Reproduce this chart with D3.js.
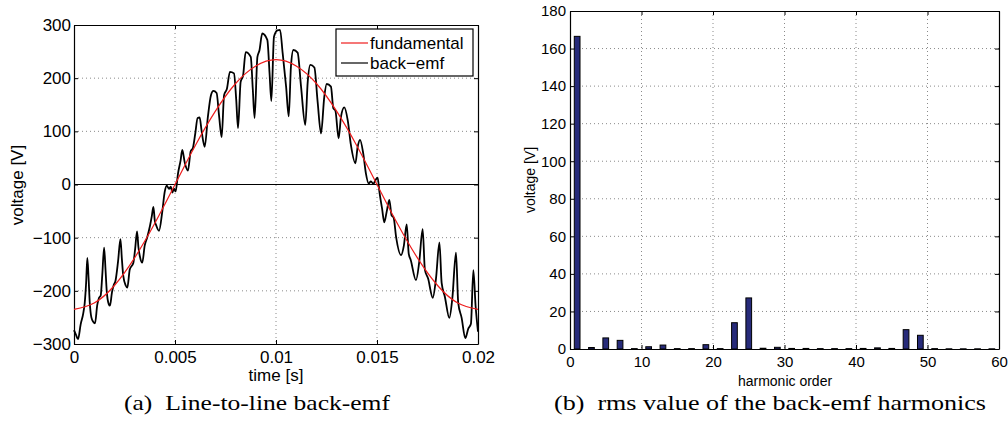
<!DOCTYPE html>
<html>
<head>
<meta charset="utf-8">
<script src="https://cdnjs.cloudflare.com/ajax/libs/d3/7.8.5/d3.min.js"></script>
<style>
body { margin: 0; background: #fff; }
text { font-family: "Liberation Sans", Arial, sans-serif; }
text.caption { font-family: "Liberation Serif", "Times New Roman", serif; }
</style>
</head>
<body>
<div id="main"></div>
<script>
'use strict';

// (a) back-emf waveform
var emfT = [0, 0.0001, 0.0002, 0.00033, 0.00046, 0.00053, 0.0006, 0.00066, 0.00072, 0.00078, 0.00086, 0.00095, 0.00104,
	0.00115, 0.00124, 0.00132, 0.0014, 0.00149, 0.00156, 0.00162, 0.00172, 0.00178, 0.00188, 0.00196, 0.00206, 0.00218,
	0.0023, 0.00237, 0.00244, 0.00256, 0.00264, 0.00276, 0.00294, 0.00303, 0.00312, 0.00319, 0.00326, 0.00338, 0.0035,
	0.00362, 0.00376, 0.00385, 0.00393, 0.004, 0.00408, 0.00421, 0.00437, 0.00449, 0.00459, 0.0047, 0.00479, 0.00487,
	0.00495, 0.00503,
	0.00515, 0.00528, 0.00536, 0.00548, 0.00564, 0.00578, 0.00588, 0.006, 0.00612, 0.00622, 0.00632, 0.00647, 0.00663,
	0.00678, 0.0069, 0.00706, 0.00718, 0.00731, 0.00743, 0.00757, 0.00772, 0.00792, 0.00803, 0.00812, 0.00825, 0.00837,
	0.0085, 0.00875, 0.00885, 0.00894, 0.00908, 0.00918, 0.00932, 0.00957, 0.00968, 0.00977, 0.0099, 0.01007, 0.0102,
	0.01033, 0.0105, 0.01063, 0.01074, 0.01086, 0.01107, 0.01124, 0.01145, 0.01157, 0.0117, 0.0119, 0.01206, 0.01223,
	0.01239, 0.01251, 0.01272, 0.01284, 0.01294, 0.0131, 0.01322, 0.01338, 0.01355, 0.01371, 0.01393, 0.01404, 0.01416,
	0.01432, 0.01445, 0.01459, 0.0147, 0.01482, 0.01492, 0.01503,
	0.01512, 0.01525, 0.01536, 0.01548, 0.01561, 0.01572, 0.01582, 0.01595, 0.01619, 0.01633, 0.01647, 0.01657, 0.01667,
	0.01693, 0.01709, 0.01726, 0.01737, 0.01753, 0.01776, 0.01792, 0.01809, 0.0182, 0.01836, 0.01858, 0.01873, 0.01891,
	0.01902, 0.01919, 0.01937, 0.01952, 0.01965, 0.01977, 0.01988, 0.02];
var emfV = [-274, -283, -291, -263, -242, -223, -185, -138, -175, -222, -250, -258, -261,
	-227, -213, -209, -170, -119, -160, -200, -225, -228, -203, -190, -180, -145,
	-103, -140, -172, -190, -194, -160, -147, -120, -88, -118, -135, -147, -115,
	-100, -78, -60, -42, -68, -78, -87, -51, -14, -2, -8, -4, -15,
	-8, -13,
	21, 46, 65, 42, 26, 63, 68, 95, 125, 126, 100, 71, 128,
	168, 176, 172, 130, 89, 168, 180, 212, 209, 160, 106, 193, 205,
	249, 240, 180, 125, 240, 252, 284, 272, 210, 157, 278, 290, 291,
	247, 184, 128, 222, 253, 248, 184, 112, 193, 225, 220, 156, 96,
	165, 189, 184, 143, 139, 87, 128, 145, 121, 74, 40, 70, 84,
	58, 21, 2, 6, 1, 8, 13,
	-14, -45, -71, -51, -29, -58, -62, -100, -133, -115, -75, -130, -142,
	-180, -146, -84, -160, -177, -213, -177, -109, -185, -211, -251, -214, -128,
	-222, -251, -289, -271, -262, -161, -228, -277];

// fundamental (red), read every 1 ms
var fundT = [0, 0.001, 0.002, 0.003, 0.004, 0.005, 0.006, 0.007, 0.008, 0.009, 0.01,
	0.011, 0.012, 0.013, 0.014, 0.015, 0.016, 0.017, 0.018, 0.019, 0.02];
var fundV = [-235, -223, -190, -138, -73, 0, 73, 138, 190, 223, 235,
	223, 190, 138, 73, 0, -73, -138, -190, -223, -235];

var zeroT = [0, 0.02];
var zeroV = [0, 0];

var timeTicks = [0, 0.005, 0.01, 0.015, 0.02];
var timeLabels = ['0', '0.005', '0.01', '0.015', '0.02'];
var voltTicks = [-300, -200, -100, 0, 100, 200, 300];

// (b) rms of harmonics
var harmOrder = [1, 3, 5, 7, 9, 11, 13, 15, 17, 19, 21, 23, 25, 27, 29, 31, 33, 35, 37, 39,
	41, 43, 45, 47, 49, 51, 53, 55, 57, 59];
var harmRms = [166.5, 0.8, 5.9, 4.6, 0.2, 1.2, 2.1, 0.2, 0.2, 2.3, 0.2, 14, 27.2, 0.4, 0.9, 0.3, 0.3, 0.2, 0.2, 0.2,
	0.3, 0.6, 0.3, 10.3, 7.3, 0.2, 0.1, 0.1, 0.1, 0.1];
var orderTicks = [0, 10, 20, 30, 40, 50, 60];
var rmsTicks = [0, 20, 40, 60, 80, 100, 120, 140, 160, 180];

var width = 1008;
var height = 432;
var gridColor = '#8a8a8a';
var barColor = '#272b7a';

var svg = d3.select('#main').append('svg')
	.attr('width', width)
	.attr('height', height)
	.style('background-color', 'white');

// draws grid, box and inward ticks on all four sides
function frame(g, x, y, xt, yt, xlab, fs, xpad, ypad) {
	var x0 = x.range()[0], x1 = x.range()[1];
	var y0 = y.range()[1], y1 = y.range()[0];

	g.append('g').selectAll('line').data(xt.slice(1, -1)).enter().append('line')
		.attr('x1', function (d) { return x(d); })
		.attr('x2', function (d) { return x(d); })
		.attr('y1', y0).attr('y2', y1)
		.attr('stroke', gridColor).attr('stroke-dasharray', '1,3');
	g.append('g').selectAll('line').data(yt.slice(1, -1)).enter().append('line')
		.attr('y1', function (d) { return y(d); })
		.attr('y2', function (d) { return y(d); })
		.attr('x1', x0).attr('x2', x1)
		.attr('stroke', gridColor).attr('stroke-dasharray', '1,3');

	var bottom = g.append('g').attr('transform', 'translate(0,' + y1 + ')')
		.call(d3.axisBottom(x).tickValues(xt).tickSize(-4).tickSizeOuter(0).tickPadding(xpad)
			.tickFormat(function (d, i) { return xlab[i]; }));
	var leftAx = g.append('g').attr('transform', 'translate(' + x0 + ',0)')
		.call(d3.axisLeft(y).tickValues(yt).tickSize(-4).tickSizeOuter(0).tickPadding(ypad)
			.tickFormat(function (d) { return d < 0 ? '\u2212' + (-d) : d; }));
	g.append('g').attr('transform', 'translate(0,' + y0 + ')')
		.call(d3.axisTop(x).tickValues(xt).tickSize(-4).tickSizeOuter(0).tickFormat(''));
	g.append('g').attr('transform', 'translate(' + x1 + ',0)')
		.call(d3.axisRight(y).tickValues(yt).tickSize(-4).tickSizeOuter(0).tickFormat(''));

	g.selectAll('.tick line').attr('stroke', 'black');
	g.selectAll('.domain').attr('stroke', 'black').attr('stroke-width', 1.2);
	[bottom, leftAx].forEach(function (a) {
		a.attr('font-family', null).attr('font-size', fs + 'px')
			.selectAll('text').attr('fill', 'black');
	});
}

// ---------- (a) ----------
var pa = svg.append('g');
var xT = d3.scaleLinear().domain([0, 0.02]).range([74, 478]);
var yV = d3.scaleLinear().domain([-300, 300]).range([344, 25]);

frame(pa, xT, yV, timeTicks, voltTicks, timeLabels, 17, 7, 3);

var lineA = d3.line()
	.x(function (d) { return xT(d[0]); })
	.y(function (d) { return yV(d[1]); });

pa.append('path')
	.datum(d3.zip(zeroT, zeroV))
	.attr('d', lineA)
	.attr('fill', 'none').attr('stroke', 'black').attr('stroke-width', 1.2);

pa.append('path')
	.datum(d3.zip(emfT, emfV))
	.attr('d', lineA.curve(d3.curveMonotoneX))
	.attr('fill', 'none').attr('stroke', 'black').attr('stroke-width', 1.8)
	.attr('stroke-linejoin', 'round');

pa.append('path')
	.datum(d3.zip(fundT, fundV))
	.attr('d', lineA.curve(d3.curveNatural))
	.attr('fill', 'none').attr('stroke', '#ee1c1c').attr('stroke-width', 1.2);

// legend
var legend = pa.append('g');
legend.append('rect')
	.attr('x', 336).attr('y', 29).attr('width', 137).attr('height', 47)
	.attr('fill', 'white').attr('stroke', 'black').attr('stroke-width', 1.2);
var legItems = [['fundamental', '#ee1c1c'], ['back\u2212emf', 'black']];
legend.selectAll('line').data(legItems).enter().append('line')
	.attr('x1', 341).attr('x2', 368)
	.attr('y1', function (d, i) { return 43 + i * 20; })
	.attr('y2', function (d, i) { return 43 + i * 20; })
	.attr('stroke', function (d) { return d[1]; }).attr('stroke-width', 1.2);
legend.selectAll('text').data(legItems).enter().append('text')
	.attr('x', 370)
	.attr('y', function (d, i) { return 49 + i * 20; })
	.attr('font-size', '17px')
	.text(function (d) { return d[0]; });

pa.append('text')
	.attr('x', 276).attr('y', 381)
	.attr('text-anchor', 'middle').attr('font-size', '17px')
	.text('time [s]');
pa.append('text')
	.attr('transform', 'translate(23,185) rotate(-90)')
	.attr('text-anchor', 'middle').attr('font-size', '17px')
	.text('voltage [V]');

// ---------- (b) ----------
var pb = svg.append('g');
var xH = d3.scaleLinear().domain([0, 60]).range([570, 999]);
var yR = d3.scaleLinear().domain([0, 180]).range([349, 11]);

frame(pb, xH, yR, orderTicks, rmsTicks, orderTicks.map(String), 15, 7, 4);

pb.append('g').selectAll('rect').data(d3.zip(harmOrder, harmRms)).enter().append('rect')
	.attr('x', function (d) { return xH(d[0] - 0.4); })
	.attr('width', xH(0.8) - xH(0))
	.attr('y', function (d) { return yR(d[1]); })
	.attr('height', function (d) { return yR(0) - yR(d[1]); })
	.attr('fill', barColor).attr('stroke', 'black').attr('stroke-width', 1);

pb.append('text')
	.attr('x', 785).attr('y', 386)
	.attr('text-anchor', 'middle').attr('font-size', '14px')
	.text('harmonic order');
pb.append('text')
	.attr('transform', 'translate(535,180) rotate(-90)')
	.attr('text-anchor', 'middle').attr('font-size', '14px')
	.text('voltage [V]');

// captions (Computer Modern is wider than Times, so stretch a little)
svg.append('text').attr('class', 'caption')
	.attr('x', 257).attr('y', 410)
	.attr('text-anchor', 'middle').attr('font-size', '22px')
	.attr('textLength', 266).attr('lengthAdjust', 'spacingAndGlyphs')
	.text('(a)\u00a0 Line-to-line back-emf');
svg.append('text').attr('class', 'caption')
	.attr('x', 770).attr('y', 410)
	.attr('text-anchor', 'middle').attr('font-size', '22px')
	.attr('textLength', 432).attr('lengthAdjust', 'spacingAndGlyphs')
	.text('(b)\u00a0 rms value of the back-emf harmonics');
</script>
</body>
</html>
